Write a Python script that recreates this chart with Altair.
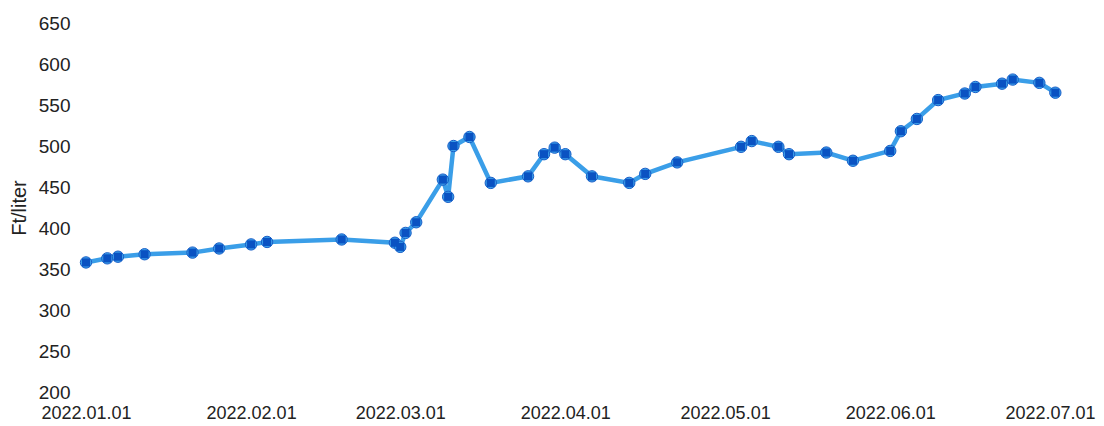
import altair as alt
import pandas as pd

dates = ["2022-01-01", "2022-01-05", "2022-01-07", "2022-01-12", "2022-01-21", "2022-01-26",
         "2022-02-01", "2022-02-04", "2022-02-18", "2022-02-28", "2022-03-01", "2022-03-02",
         "2022-03-04", "2022-03-09", "2022-03-10", "2022-03-11", "2022-03-14", "2022-03-18",
         "2022-03-25", "2022-03-28", "2022-03-30", "2022-04-01", "2022-04-06", "2022-04-13",
         "2022-04-16", "2022-04-22", "2022-05-04", "2022-05-06", "2022-05-11", "2022-05-13",
         "2022-05-20", "2022-05-25", "2022-06-01", "2022-06-03", "2022-06-06", "2022-06-10",
         "2022-06-15", "2022-06-17", "2022-06-22", "2022-06-24", "2022-06-29", "2022-07-02"]
prices = [358, 363, 365, 368, 370, 375,
          380, 383, 386, 382, 377, 394,
          407, 459, 438, 500, 511, 455,
          463, 490, 498, 490, 463, 455,
          466, 480, 499, 506, 499, 490,
          492, 482, 494, 518, 533, 556,
          564, 572, 576, 581, 577, 565]
y_ticks = [200, 250, 300, 350, 400, 450, 500, 550, 600, 650]
x_ticks = [(2022, m) for m in range(1, 8)]

df = pd.DataFrame({"date": dates, "price": prices})

font = "Liberation Sans"
x_enc = alt.X(
    "date:T",
    scale=alt.Scale(type="utc",
                    domain=[alt.DateTime(year=2022, month=1, date=1, utc=True),
                            alt.DateTime(year=2022, month=7, date=1, utc=True)]),
    axis=alt.Axis(
        title=None, format="%Y.%m.%d", formatType="time",
        values=[alt.DateTime(year=y, month=m, date=1, utc=True) for y, m in x_ticks],
        domain=False, ticks=False, grid=False, labelOverlap=False, labelFlush=False,
        labelFont=font, labelFontSize=18, labelColor="#222222", labelPadding=12,
    ),
)
y_enc = alt.Y(
    "price:Q",
    scale=alt.Scale(domain=[200, 650], nice=False, zero=False),
    axis=alt.Axis(
        title="Ft/liter", values=y_ticks, domain=False, ticks=False, grid=False,
        labelFont=font, labelFontSize=19, labelColor="#222222", labelPadding=16,
        titleFont=font, titleFontSize=20, titleFontWeight="normal", titleColor="#222222",
        titlePadding=9,
    ),
)

base = alt.Chart(df).encode(x=x_enc, y=y_enc)
line = base.mark_line(color="#3a9ee8", strokeWidth=4.5)
circles = base.mark_point(shape="circle", filled=True, size=130, color="#3a9ee8",
                          stroke="#1a5fc8", strokeWidth=1, opacity=1)
squares = base.mark_point(shape="square", filled=True, size=65, color="#0a52c2", opacity=1)

chart = (line + circles + squares).properties(
    width=964, height=369,
    background="white",
    autosize=alt.AutoSizeParams(type="none"),
    padding={"left": 78, "top": 15, "right": 46, "bottom": 40},
).configure_view(strokeWidth=0)

chart.save("out.html", embed_options={"renderer": "svg", "actions": False})
